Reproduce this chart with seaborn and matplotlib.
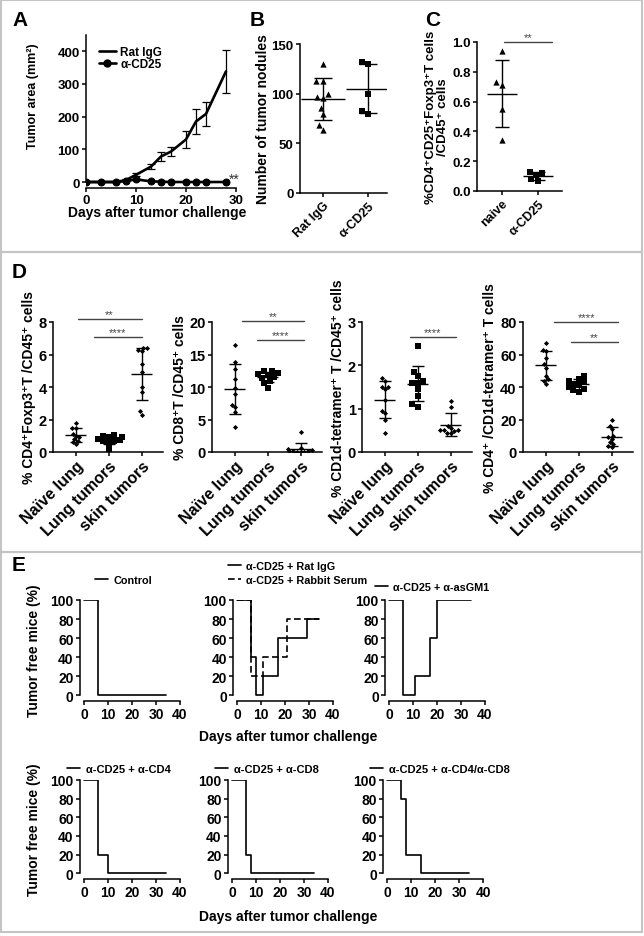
import numpy as np
import pandas as pd
import matplotlib
matplotlib.use("Agg")
import matplotlib.pyplot as plt
from matplotlib.lines import Line2D
from matplotlib.patches import Rectangle
import seaborn as sns
import warnings
warnings.filterwarnings("ignore")

sns.set_theme(style="ticks")
plt.rcParams['font.family'] = ['Liberation Sans', 'DejaVu Sans']
plt.rcParams['font.weight'] = 'bold'
plt.rcParams['axes.labelweight'] = 'bold'
plt.rcParams['axes.linewidth'] = 1.1
plt.rcParams['xtick.major.width'] = 1.1
plt.rcParams['ytick.major.width'] = 1.1
plt.rcParams['xtick.major.size'] = 3
plt.rcParams['ytick.major.size'] = 3
plt.rcParams['xtick.major.pad'] = 1.5
plt.rcParams['ytick.major.pad'] = 1.5
plt.rcParams['text.color'] = 'black'
plt.rcParams['axes.labelcolor'] = 'black'
plt.rcParams['xtick.color'] = 'black'
plt.rcParams['ytick.color'] = 'black'
plt.rcParams['axes.edgecolor'] = 'black'

# ---------------- data ----------------
# Panel A
days_a = [0, 3, 6, 8, 10, 13, 15, 17, 20, 22, 24, 28]
ratigg_a = [0, 0, 0, 6, 22, 47, 78, 93, 130, 185, 208, 338]
ratigg_a_err = [0, 0, 0, 4, 4, 8, 13, 15, 26, 38, 36, 65]
cd25_a = [0, 0, 0, 3, 8, 2, 1, 0, 0, 0, 0, 0]

# Panel B
b_groups = ["Rat IgG", "α-CD25"]
ratigg_b = [130, 113, 113, 100, 97, 96, 86, 80, 68, 63]
cd25_b = [132, 130, 100, 83, 80]

# Panel C
c_groups = ["naive", "α-CD25"]
naive_c = [0.94, 0.73, 0.71, 0.55, 0.34]
cd25_c = [0.13, 0.12, 0.11, 0.08, 0.07]

# Panel D
d_groups = ["Naïve lung", "Lung tumors", "skin tumors"]
d1 = [[1.8, 1.5, 1.45, 1.1, 1.0, 0.9, 0.8, 0.7, 0.6, 0.5],
      [1.05, 1.0, 0.95, 0.9, 0.8, 0.75, 0.7, 0.65, 0.55, 0.2],
      [6.4, 6.4, 6.3, 6.2, 5.4, 4.9, 4.0, 3.7, 2.5, 2.3]]
d2 = [[16.4, 13.8, 12.8, 11.2, 9.8, 9.0, 7.3, 6.9, 6.1, 3.8],
      [12.5, 12.4, 12.2, 12.0, 11.8, 11.6, 11.4, 11.0, 10.6, 9.9],
      [3.1, 0.6, 0.4, 0.3, 0.2, 0.1, 0.1, 0.0, 0.0, 0.0]]
d3 = [[1.7, 1.65, 1.5, 1.5, 1.45, 1.2, 0.95, 0.9, 0.75, 0.45],
      [2.45, 1.85, 1.75, 1.65, 1.6, 1.6, 1.45, 1.3, 1.1, 1.05],
      [1.18, 1.05, 0.6, 0.55, 0.5, 0.5, 0.48, 0.45, 0.45, 0.5]]
d4 = [[67, 63, 62, 58, 54, 52, 47, 45, 44, 42],
      [47, 45, 44, 43, 42, 41, 40, 39, 38, 37],
      [20, 16, 14, 10, 9, 8, 6, 5, 4, 3]]
d_ylabels = ["% CD4⁺Foxp3⁺T /CD45⁺ cells", "% CD8⁺T /CD45⁺ cells",
             "% CD1d-tetramer⁺ T /CD45⁺ cells", "% CD4⁺ /CD1d-tetramer⁺ T cells"]
d_ymax = [8, 20, 3, 80]
d_yticks = [[0, 2, 4, 6, 8], [0, 5, 10, 15, 20], [0, 1, 2, 3], [0, 20, 40, 60, 80]]
# significance bars: (x0, x1, y, label)
d_sig = [[(0.05, 2.0, 8.2, "**"), (0.55, 2.0, 7.1, "****")],
         [(0.2, 2.1, 20.2, "**"), (0.67, 2.1, 17.2, "****")],
         [(0.75, 2.15, 2.65, "****")],
         [(0.25, 2.2, 80, "****"), (0.75, 2.2, 67.7, "**")]]

# Panel E (Kaplan-Meier style, steps-post)
e_series = {
    "Control": ([0, 6, 34], [100, 0, 0]),
    "α-CD25 + Rat IgG": ([0, 6, 8, 11, 17, 29, 34], [100, 40, 0, 20, 60, 80, 80]),
    "α-CD25 + Rabbit Serum": ([0, 6, 11, 21, 34], [100, 20, 40, 80, 80]),
    "α-CD25 + α-asGM1": ([0, 6, 11, 17, 20, 34], [100, 0, 20, 60, 100, 100]),
    "α-CD25 + α-CD4": ([0, 6, 10, 34], [100, 20, 0, 0]),
    "α-CD25 + α-CD8": ([0, 6, 8, 34], [100, 20, 0, 0]),
    "α-CD25 + α-CD4/α-CD8": ([0, 6, 8, 14, 34], [100, 80, 20, 0, 0]),
}

W, H = 644, 937
fig = plt.figure(figsize=(W / 100, H / 100), dpi=100)
fig.patch.set_facecolor('white')


def ax_px(l, t, r, b):
    return fig.add_axes([l / W, 1 - b / H, (r - l) / W, (b - t) / H])


def fx(x):
    return x / W


def fy(y):
    return 1 - y / H


def style(ax):
    sns.despine(ax=ax)
    ax.set_facecolor('none')
    ax.tick_params(axis='both', colors='black')


def mean_sd(ax, i, vals, half=0.3, cap=0.17, lw=1.0):
    m = np.mean(vals)
    s = np.std(vals, ddof=1)
    ax.hlines(m, i - half, i + half, color='black', lw=lw, zorder=4)
    ax.vlines(i, m - s, m + s, color='black', lw=lw, zorder=4)
    ax.hlines([m - s, m + s], i - cap, i + cap, color='black', lw=lw, zorder=4)


def sig(ax, x0, x1, y, text, fs=8):
    ax.plot([x0, x1], [y, y], color='#444444', lw=1.0, clip_on=False)
    ax.text((x0 + x1) / 2, y, text, ha='center', va='bottom', fontsize=fs,
            color='#444444', fontweight='normal', clip_on=False)


# frames
for (y0, y1) in [(1, 253), (253, 553), (553, 933)]:
    fig.add_artist(Rectangle((fx(1), fy(y1)), fx(641), (y1 - y0) / H,
                             transform=fig.transFigure, fill=False,
                             edgecolor='#c4c4c4', lw=1.5))

# panel letters
for lab, x, y in [("A", 12, 20), ("B", 250, 20), ("C", 425, 20), ("D", 12, 272), ("E", 12, 566)]:
    fig.text(fx(x), fy(y), lab, fontsize=15, fontweight='bold', va='center', ha='left')

# ---------------- Panel A ----------------
axA = ax_px(86, 36, 236, 189)
dfA = pd.DataFrame({"day": days_a, "rat": ratigg_a, "cd25": cd25_a})
axA.errorbar(days_a, ratigg_a, yerr=ratigg_a_err, fmt='none', ecolor='black',
             elinewidth=0.9, capsize=3, capthick=0.9, zorder=3)
sns.lineplot(data=dfA, x="day", y="rat", ax=axA, color='black', lw=1.9, zorder=4)
sns.lineplot(data=dfA, x="day", y="cd25", ax=axA, color='black', lw=1.9,
             marker='o', markersize=5, markeredgecolor='black', zorder=5)
axA.set_xlim(0, 30)
axA.set_ylim(-18.3, 449)
axA.set_xticks([0, 10, 20, 30])
axA.set_yticks([0, 100, 200, 300, 400])
style(axA)
axA.spines['left'].set_bounds(0, 449)
axA.set_xlabel("")
axA.set_ylabel("")
axA.tick_params(labelsize=9.5)
fig.text(fx(33), fy(96), "Tumor area (mm²)", rotation=90, ha='center', va='center', fontsize=9)
fig.text(fx(157), fy(213), "Days after tumor challenge", ha='center', va='center', fontsize=10)
handles = [Line2D([], [], color='black', lw=1.9),
           Line2D([], [], color='black', lw=1.9, marker='o', markersize=5)]
axA.legend(handles, ["Rat IgG", "α-CD25"], loc='upper left', bbox_to_anchor=(0.04, 0.975),
           frameon=False, fontsize=8.5, handlelength=1.4, handletextpad=0.4,
           labelspacing=0.0, borderaxespad=0.2)
axA.text(28.6, 10, "**", fontsize=10, ha='left', va='center', color='#333333',
         fontweight='normal', clip_on=False)

# ---------------- Panel B ----------------
axB = ax_px(300, 45, 387, 194)
sns.swarmplot(x=[b_groups[0]] * len(ratigg_b), y=ratigg_b, order=b_groups, ax=axB,
              marker='^', color='black', size=4.5)
sns.swarmplot(x=[b_groups[1]] * len(cd25_b), y=cd25_b, order=b_groups, ax=axB,
              marker='s', color='black', size=4.5)
mean_sd(axB, 0, ratigg_b, half=0.48, cap=0.2)
mean_sd(axB, 1, cd25_b, half=0.48, cap=0.2)
axB.set_xlim(-0.51, 1.42)
axB.set_ylim(0, 150)
axB.set_yticks([0, 50, 100, 150])
style(axB)
axB.set_ylabel("Number of tumor nodules", fontsize=10, labelpad=1)
axB.set_xlabel("")
axB.tick_params(labelsize=9.5)
axB.set_xticks([0, 1])
axB.set_xticklabels(b_groups, rotation=45, ha='right', rotation_mode='anchor', fontsize=9)

# ---------------- Panel C ----------------
axC = ax_px(477, 43, 562, 192)
sns.swarmplot(x=[c_groups[0]] * len(naive_c), y=naive_c, order=c_groups, ax=axC,
              marker='^', color='black', size=4.5)
sns.swarmplot(x=[c_groups[1]] * len(cd25_c), y=cd25_c, order=c_groups, ax=axC,
              marker='s', color='black', size=4.5)
mean_sd(axC, 0, naive_c, half=0.42, cap=0.2)
mean_sd(axC, 1, cd25_c, half=0.42, cap=0.2)
axC.set_xlim(-0.69, 1.67)
axC.set_ylim(0, 1.0)
axC.set_yticks([0.0, 0.2, 0.4, 0.6, 0.8, 1.0])
axC.set_yticklabels(["0.0", "0.2", "0.4", "0.6", "0.8", "1.0"])
style(axC)
axC.set_ylabel("%CD4⁺CD25⁺Foxp3⁺T cells\n/CD45⁺ cells", fontsize=9.5, labelpad=2,
               linespacing=1.0)
axC.set_xlabel("")
axC.tick_params(labelsize=9.5)
axC.set_xticks([0, 1])
axC.set_xticklabels(c_groups, rotation=45, ha='right', rotation_mode='anchor', fontsize=9)
sig(axC, 0.05, 1.4, 1.0, "**")

# ---------------- Panel D ----------------
d_lefts = [53, 212, 362, 523]
d_data = [d1, d2, d3, d4]
markers = ['D', 's', 'D']
msizes = [2.6, 4.0, 2.6]
for k in range(4):
    l = d_lefts[k]
    ax = ax_px(l, 323, l + 110, 453)
    for i, g in enumerate(d_groups):
        vals = d_data[k][i]
        sns.swarmplot(x=[g] * len(vals), y=vals, order=d_groups, ax=ax,
                      marker=markers[i], color='black', size=msizes[i])
        mean_sd(ax, i, vals, half=0.32, cap=0.18)
    ax.set_xlim(-0.7, 2.65)
    ax.set_ylim(0, d_ymax[k])
    ax.set_yticks(d_yticks[k])
    style(ax)
    ax.set_xlabel("")
    ax.set_ylabel(d_ylabels[k], fontsize=10, labelpad=2)
    ax.tick_params(axis='y', labelsize=10.5)
    ax.set_xticks([0, 1, 2])
    ax.set_xticklabels(d_groups, rotation=45, ha='right', rotation_mode='anchor', fontsize=11.5)
    for (x0, x1, y, t) in d_sig[k]:
        sig(ax, x0, x1, y, t)

# ---------------- Panel E ----------------
def km_axes(l, t, b, names, styles):
    ax = ax_px(l, t, l + 100, b)
    handles = []
    for name, ls in zip(names, styles):
        tt, vv = e_series[name]
        df = pd.DataFrame({"t": tt, "v": vv})
        sns.lineplot(data=df, x="t", y="v", ax=ax, drawstyle='steps-post',
                     color='black', lw=1.2, linestyle=ls)
        handles.append(Line2D([], [], color='black', lw=1.2, linestyle=ls))
    ax.set_xlim(-1.7, 40)
    ax.set_ylim(-6.3, 100)
    ax.set_xticks([0, 10, 20, 30, 40])
    ax.set_yticks([0, 20, 40, 60, 80, 100])
    style(ax)
    ax.spines['left'].set_bounds(0, 100)
    ax.spines['bottom'].set_bounds(0, 40)
    ax.set_xlabel("")
    ax.set_ylabel("")
    ax.tick_params(labelsize=10)
    return ax, handles


top_specs = [(80, ["Control"], ['-']),
             (233, ["α-CD25 + Rat IgG", "α-CD25 + Rabbit Serum"], ['-', (0, (4, 2))]),
             (385, ["α-CD25 + α-asGM1"], ['-'])]
leg_pos_top = [(0.15, 1.15), (-0.05, 1.15), (-0.1, 1.08)]
for (l, names, sty), lp in zip(top_specs, leg_pos_top):
    ax, hs = km_axes(l, 601, 702, names, sty)
    ax.legend(hs, names, loc='lower left', bbox_to_anchor=lp, frameon=False,
              fontsize=7.8, handlelength=1.2, handletextpad=0.5, labelspacing=0.4,
              borderaxespad=0, borderpad=0)

bot_specs = [(80, ["α-CD25 + α-CD4"], ['-']),
             (228, ["α-CD25 + α-CD8"], ['-']),
             (383, ["α-CD25 + α-CD4/α-CD8"], ['-'])]
for (l, names, sty) in bot_specs:
    ax, hs = km_axes(l, 781, 880, names, sty)
    ax.legend(hs, names, loc='lower left', bbox_to_anchor=(-0.13, 1.06), frameon=False,
              fontsize=8, handlelength=1.2, handletextpad=0.5,
              borderaxespad=0, borderpad=0)

fig.text(fx(34), fy(651), "Tumor free mice (%)", rotation=90, ha='center', va='center', fontsize=10)
fig.text(fx(34), fy(830), "Tumor free mice (%)", rotation=90, ha='center', va='center', fontsize=10)
fig.text(fx(288), fy(737), "Days after tumor challenge", ha='center', va='center', fontsize=10)
fig.text(fx(288), fy(917), "Days after tumor challenge", ha='center', va='center', fontsize=10)

fig.savefig("out.png", dpi=100)
